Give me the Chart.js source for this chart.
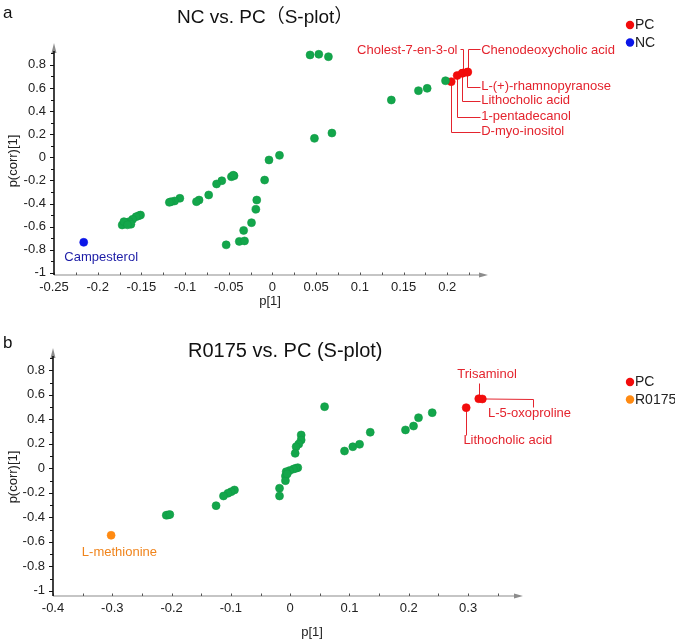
<!DOCTYPE html>
<html>
<head>
<meta charset="utf-8">
<script src="https://cdn.jsdelivr.net/npm/chart.js@4.4.1/dist/chart.umd.min.js"></script>
<style>
  html, body { margin: 0; padding: 0; background: #fff; }
  #wrap { position: relative; width: 675px; height: 642px; }
  canvas { position: absolute; left: 0; }
  #plotA { top: 0; }
  #plotB { top: 320px; }
</style>
</head>
<body>
<div id="wrap">
  <canvas id="plotA" width="675" height="320"></canvas>
  <canvas id="plotB" width="675" height="322"></canvas>
</div>
<script>
// ---- panel a : NC vs. PC ----
const otherA_x = [0.043, 0.053, 0.064, 0.048, 0.068, -0.004, 0.008, -0.009, -0.018, -0.019,
                  -0.024, -0.033, -0.038, -0.032, -0.053, -0.047, -0.044, -0.045, -0.058, -0.064,
                  -0.073, -0.084, -0.087, -0.106, -0.112, -0.116, -0.118, -0.151, -0.153, -0.156,
                  -0.160, -0.164, -0.168, -0.172, -0.162, -0.170, -0.166, 0.136, 0.167, 0.177, 0.198];
const otherA_y = [0.886, 0.892, 0.871, 0.164, 0.210, -0.023, 0.017, -0.197, -0.370, -0.450,
                  -0.566, -0.633, -0.728, -0.724, -0.758, -0.168, -0.160, -0.155, -0.203, -0.231,
                  -0.326, -0.370, -0.384, -0.355, -0.378, -0.384, -0.390, -0.500, -0.505, -0.514,
                  -0.537, -0.557, -0.566, -0.586, -0.580, -0.557, -0.585, 0.496, 0.577, 0.597, 0.663];
const pcA_names = ['D-myo-inositol', '1-pentadecanol', 'Lithocholic acid',
                   'Cholest-7-en-3-ol', 'L-(+)-rhamnopyranose', 'Chenodeoxycholic acid'];
const pcA_x = [0.2045, 0.2113, 0.2170, 0.2177, 0.2227, 0.2235];
const pcA_y = [0.655, 0.708, 0.727, 0.729, 0.736, 0.739];
const ncA_names = ['Campesterol'];
const ncA_x = [-0.216];
const ncA_y = [-0.736];
const xTicksA = [-0.25, -0.2, -0.15, -0.1, -0.05, 0, 0.05, 0.1, 0.15, 0.2];

// ---- panel b : R0175 vs. PC ----
const otherB_x = [0.058, 0.0185, 0.0185, 0.0145, 0.010, 0.0084, 0.0128, 0.0095, 0.0056, -0.001,
                  -0.0068, -0.008, -0.008, -0.005, -0.018, -0.018, -0.094, -0.0995, -0.105, -0.1125,
                  -0.125, -0.206, -0.209, -0.203, 0.0916, 0.1056, 0.117, 0.135, 0.1944, 0.208,
                  0.2164, 0.2395];
const otherB_y = [0.503, 0.272, 0.231, 0.198, 0.176, 0.122, 0.005, 0.000, -0.006, -0.019,
                  -0.028, -0.063, -0.101, -0.045, -0.163, -0.226, -0.177, -0.191, -0.204, -0.226,
                  -0.305, -0.381, -0.383, -0.378, 0.141, 0.176, 0.196, 0.294, 0.313, 0.345,
                  0.413, 0.454];
const pcB_names = ['Trisaminol', 'L-5-oxoproline', 'Lithocholic acid'];
const pcB_x = [0.318, 0.324, 0.2968];
const pcB_y = [0.568, 0.566, 0.495];
const rB_names = ['L-methionine'];
const rB_x = [-0.302];
const rB_y = [-0.547];
const xTicksB = [-0.4, -0.3, -0.2, -0.1, 0, 0.1, 0.2, 0.3];

const yTicks = [0.8, 0.6, 0.4, 0.2, 0, -0.2, -0.4, -0.6, -0.8, -1];

const FONT = '"Liberation Sans", Arial, Helvetica, sans-serif';
const GREEN = '#13a64b';
const RED = '#f20c0c';
const RED_TXT = '#e4242e';

function pts(xs, ys) {
    return xs.map((x, i) => ({ x: x, y: ys[i] }));
}

function line(ctx, x1, y1, x2, y2) {
    ctx.beginPath();
    ctx.moveTo(x1, y1);
    ctx.lineTo(x2, y2);
    ctx.stroke();
}

// axes, title, legend and labels drawn around the library's scales
function makeDecor(cfg) {
    return {
        id: 'decor',
        beforeDatasetsDraw(chart) {
            const ctx = chart.ctx;
            const { left, right, top, bottom } = chart.chartArea;
            const xs = chart.scales.x, ys = chart.scales.y;
            ctx.save();

            // x axis (grey, arrow, small ticks above)
            ctx.strokeStyle = '#8c8c8c';
            ctx.fillStyle = '#8c8c8c';
            ctx.lineWidth = 1.2;
            line(ctx, left, bottom, right - 4, bottom);
            ctx.beginPath();
            ctx.moveTo(right, bottom);
            ctx.lineTo(right - 9, bottom - 2.5);
            ctx.lineTo(right - 9, bottom + 2.5);
            ctx.closePath();
            ctx.fill();
            ctx.strokeStyle = '#555';
            ctx.lineWidth = 1;
            for (let k = 0; ; k++) {
                const v = xs.min + k * cfg.xMinor;
                if (v > xs.max - cfg.xMinor * 0.5) break;
                const px = Math.round(xs.getPixelForValue(v)) + 0.5;
                line(ctx, px, bottom, px, bottom - 2.5);
            }

            // y axis (black, arrow, ticks to the left)
            ctx.fillStyle = '#8c8c8c';
            ctx.beginPath();
            ctx.moveTo(left, top);
            ctx.lineTo(left - 2.5, top + 10);
            ctx.lineTo(left + 2.5, top + 10);
            ctx.closePath();
            ctx.fill();
            ctx.strokeStyle = '#111';
            ctx.lineWidth = 1.6;
            line(ctx, left, bottom, left, top + 8);
            ctx.lineWidth = 1;
            for (let k = 0; k <= 19; k++) {
                const v = -1 + k * 0.1;
                const py = Math.round(ys.getPixelForValue(v)) + 0.5;
                line(ctx, left, py, left - (k % 2 === 0 ? 4 : 3), py);
            }

            // leader lines for labelled metabolites
            cfg.notes.forEach(n => {
                const d = chart.data.datasets[n.ds].data[n.i];
                ctx.strokeStyle = n.color;
                ctx.lineWidth = 1;
                ctx.beginPath();
                let px = Math.round(xs.getPixelForValue(d.x)) + 0.5;
                ctx.moveTo(px, ys.getPixelForValue(d.y));
                n.path.forEach(p => {
                    const qx = Math.round(xs.getPixelForValue(p[0])) + 0.5;
                    const qy = Math.round(ys.getPixelForValue(p[1])) + 0.5;
                    ctx.lineTo(qx, qy);
                });
                if (n.path.length) ctx.stroke();
            });
            ctx.restore();
        },
        afterDatasetsDraw(chart) {
            const ctx = chart.ctx;
            const xs = chart.scales.x, ys = chart.scales.y;
            ctx.save();
            ctx.textBaseline = 'alphabetic';

            // panel letter and title
            ctx.fillStyle = '#111';
            ctx.textAlign = 'left';
            ctx.font = '17px ' + FONT;
            ctx.fillText(cfg.letter, 3, cfg.letterY);
            ctx.font = cfg.titleSize + 'px ' + FONT + ', "Noto Sans CJK SC"';
            ctx.fillText(cfg.title, cfg.titleX, cfg.titleY);

            // axis titles
            ctx.font = '13px ' + FONT;
            ctx.fillStyle = '#222';
            ctx.textAlign = 'center';
            ctx.textBaseline = 'middle';
            ctx.fillText('p[1]', cfg.xTitle[0], cfg.xTitle[1]);
            ctx.save();
            ctx.translate(13, cfg.yTitleY);
            ctx.rotate(-Math.PI / 2);
            ctx.fillText('p(corr)[1]', 0, 0);
            ctx.restore();

            // legend
            cfg.legend.forEach((it, k) => {
                const y = cfg.legendY + k * 17.5;
                ctx.fillStyle = it.color;
                ctx.beginPath();
                ctx.arc(630, y, 4.2, 0, Math.PI * 2);
                ctx.fill();
                ctx.fillStyle = '#222';
                ctx.textAlign = 'left';
                ctx.font = '14px ' + FONT;
                ctx.fillText(it.label, 635, y + 0.5);
            });

            // labels
            ctx.font = '13px ' + FONT;
            cfg.notes.forEach(n => {
                ctx.fillStyle = n.color;
                ctx.textAlign = n.align;
                ctx.fillText(n.text, xs.getPixelForValue(n.tx), ys.getPixelForValue(n.ty));
            });
            ctx.restore();
        }
    };
}

function makeScales(xMin, xMax, yMin, yMax, xTicks, yWidth) {
    const tickFont = { family: FONT, size: 13 };
    return {
        x: {
            type: 'linear', min: xMin, max: xMax,
            afterBuildTicks: s => { s.ticks = xTicks.map(v => ({ value: v })); },
            afterFit: s => { s.height = 30; },
            grid: { display: false, drawTicks: false },
            border: { display: false },
            ticks: { color: '#222', font: tickFont, padding: 5, autoSkip: false, maxRotation: 0,
                     callback: v => String(v) }
        },
        y: {
            type: 'linear', min: yMin, max: yMax,
            afterBuildTicks: s => { s.ticks = yTicks.map(v => ({ value: v })); },
            afterFit: s => { s.width = yWidth; },
            grid: { display: false, drawTicks: false },
            border: { display: false },
            ticks: { color: '#222', font: tickFont, padding: 8, autoSkip: false,
                     callback: v => String(v) }
        }
    };
}

function dataset(label, xs, ys, color, border) {
    return {
        label: label,
        data: pts(xs, ys),
        backgroundColor: color,
        borderColor: border,
        borderWidth: 0.6,
        pointRadius: 4,
        pointHoverRadius: 4
    };
}

// ---- chart a ----
const notesA = [
    { ds: 1, i: 0, path: [[0.2045, 0.222], [0.2377, 0.222]], tx: 0.2388, ty: 0.222, align: 'left' },
    { ds: 1, i: 1, path: [[0.2113, 0.352], [0.2377, 0.352]], tx: 0.2388, ty: 0.352, align: 'left' },
    { ds: 1, i: 2, path: [[0.2170, 0.490], [0.2377, 0.490]], tx: 0.2388, ty: 0.490, align: 'left' },
    { ds: 1, i: 3, path: [[0.2177, 0.935], [0.2147, 0.935]], tx: 0.2117, ty: 0.929, align: 'right' },
    { ds: 1, i: 4, path: [[0.2227, 0.611], [0.2377, 0.611]], tx: 0.2388, ty: 0.611, align: 'left' },
    { ds: 1, i: 5, path: [[0.2235, 0.935], [0.2377, 0.935]], tx: 0.2388, ty: 0.929, align: 'left' }
].map(n => Object.assign(n, { text: pcA_names[n.i], color: RED_TXT }));
notesA.push({ ds: 2, i: 0, path: [], tx: -0.196, ty: -0.87, align: 'center',
              text: ncA_names[0], color: '#1c1ca6' });

new Chart(document.getElementById('plotA'), {
    type: 'scatter',
    data: {
        datasets: [
            dataset('other', otherA_x, otherA_y, GREEN, '#0f9a44'),
            dataset('PC', pcA_x, pcA_y, RED, RED),
            dataset('NC', ncA_x, ncA_y, '#0b16e8', '#0b16e8')
        ]
    },
    options: {
        responsive: false,
        animation: false,
        events: [],
        layout: { padding: { left: 0, right: 187, top: 43, bottom: 15 } },
        scales: makeScales(-0.25, 0.2466, -1.019, 0.9896, xTicksA, 54),
        plugins: { legend: { display: false }, tooltip: { enabled: false } }
    },
    plugins: [makeDecor({
        letter: 'a', letterY: 18,
        title: 'NC vs. PC（S-plot）', titleSize: 19, titleX: 177, titleY: 23,
        xTitle: [270, 301], yTitleY: 161,
        xMinor: 0.025,
        legend: [{ label: 'PC', color: RED }, { label: 'NC', color: '#0b16e8' }],
        legendY: 25,
        notes: notesA
    })]
});

// ---- chart b ----
const notesB = [
    { ds: 1, i: 0, path: [[0.318, 0.699]], tx: 0.332, ty: 0.77, align: 'center' },
    { ds: 1, i: 1, path: [[0.409, 0.566], [0.409, 0.503]], tx: 0.4035, ty: 0.449, align: 'center' },
    { ds: 1, i: 2, path: [[0.2968, 0.272]], tx: 0.367, ty: 0.225, align: 'center' }
].map(n => Object.assign(n, { text: pcB_names[n.i], color: RED_TXT }));
notesB.push({ ds: 2, i: 0, path: [], tx: -0.288, ty: -0.686, align: 'center',
              text: rB_names[0], color: '#f0841c' });

new Chart(document.getElementById('plotB'), {
    type: 'scatter',
    data: {
        datasets: [
            dataset('other', otherB_x, otherB_y, GREEN, '#0f9a44'),
            dataset('PC', pcB_x, pcB_y, RED, RED),
            dataset('R0175', rB_x, rB_y, '#ff8a12', '#ff8a12')
        ]
    },
    options: {
        responsive: false,
        animation: false,
        events: [],
        layout: { padding: { left: 0, right: 152, top: 28, bottom: 16 } },
        scales: makeScales(-0.4, 0.3926, -1.0425, 0.982, xTicksB, 53),
        plugins: { legend: { display: false }, tooltip: { enabled: false } }
    },
    plugins: [makeDecor({
        letter: 'b', letterY: 28,
        title: 'R0175 vs. PC (S-plot)', titleSize: 20, titleX: 188, titleY: 37,
        xTitle: [312, 312], yTitleY: 157,
        xMinor: 0.05,
        legend: [{ label: 'PC', color: RED }, { label: 'R0175', color: '#ff8a12' }],
        legendY: 62,
        notes: notesB
    })]
});
</script>
</body>
</html>
